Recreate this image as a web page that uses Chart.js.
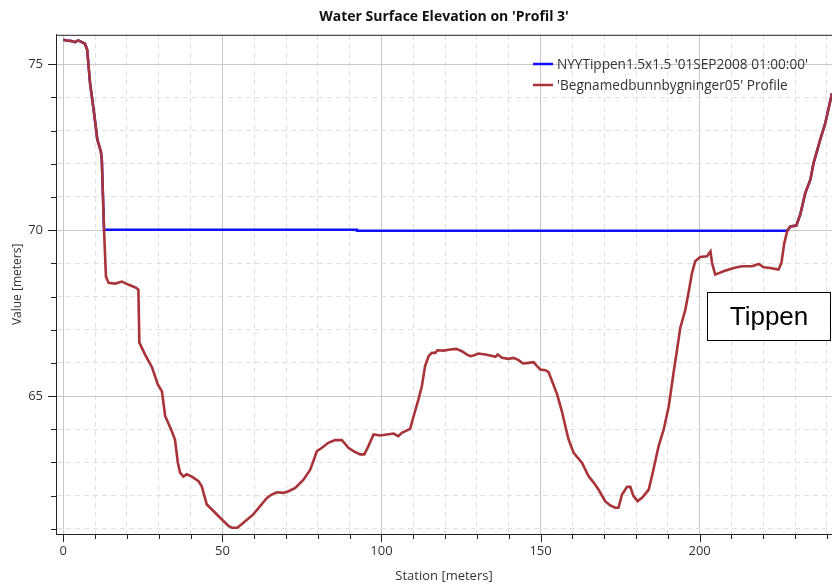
<!DOCTYPE html>
<html>
<head>
<meta charset="utf-8">
<script src="https://cdn.jsdelivr.net/npm/chart.js@4.4.1/dist/chart.umd.min.js"></script>
<style>
  html, body { margin: 0; padding: 0; background: #ffffff; }
  #wrap { width: 832px; height: 584px; position: relative; }
</style>
</head>
<body>
<div id="wrap"><canvas id="c" width="832" height="584"></canvas></div>
<script>
// ---- Data ----
const chartTitle = "Water Surface Elevation on 'Profil 3'";
const seriesNames = ["NYYTippen1.5x1.5 '01SEP2008 01:00:00'", "'Begnamedbunnbygninger05' Profile"];
const annotationText = "Tippen";

// Ground profile (Station [m], Value [m])
const stations = [0.0, 1.0, 2.6, 3.7, 4.7, 5.8, 6.8, 7.5, 8.4, 9.65, 10.7, 11.8, 12.1, 12.8, 13.4, 14.2, 16.3, 18.4, 20.4, 22.9, 23.6, 23.9, 25.7, 27.9, 29.7, 31.0, 32.0, 32.5, 34.1, 35.1, 36.0, 36.7, 37.7, 38.8, 40.4, 42.5, 43.5, 45.1, 46.7, 49.3, 51.9, 53.0, 54.7, 56.6, 59.7, 64.0, 65.5, 67.1, 69.2, 70.8, 72.9, 75.5, 77.6, 78.6, 79.7, 81.3, 83.3, 85.4, 87.5, 88.3, 89.6, 91.2, 93.3, 94.6, 95.9, 97.5, 99.6, 101.7, 103.8, 105.3, 106.4, 109.0, 110.1, 111.6, 112.7, 113.7, 114.8, 115.8, 116.9, 117.6, 119.5, 121.6, 123.5, 125.3, 126.9, 127.9, 128.9, 130.5, 132.6, 134.2, 135.8, 136.5, 137.9, 139.9, 141.5, 143.1, 144.5, 146.2, 147.8, 148.9, 149.9, 151.5, 152.5, 153.6, 155.2, 156.7, 157.8, 158.8, 160.4, 163.0, 165.1, 166.7, 168.2, 170.3, 171.9, 173.5, 174.5, 175.6, 177.2, 178.2, 179.2, 180.5, 181.9, 184.0, 185.5, 187.1, 188.7, 190.3, 191.8, 192.9, 193.9, 195.5, 196.5, 197.6, 198.6, 200.2, 202.3, 203.4, 203.9, 204.9, 207.5, 210.7, 213.3, 216.5, 218.6, 220.1, 222.2, 224.8, 225.7, 226.6, 227.6, 228.5, 230.4, 231.7, 233.2, 234.8, 235.8, 237.9, 239.5, 241.6, 243.0];
const elevations = [75.74, 75.72, 75.70, 75.67, 75.72, 75.67, 75.62, 75.44, 74.43, 73.54, 72.73, 72.37, 72.12, 70.00, 68.60, 68.41, 68.39, 68.45, 68.36, 68.26, 68.20, 66.61, 66.25, 65.86, 65.35, 65.14, 64.40, 64.29, 63.94, 63.69, 62.99, 62.69, 62.57, 62.64, 62.57, 62.43, 62.28, 61.73, 61.58, 61.33, 61.08, 61.03, 61.03, 61.18, 61.43, 61.93, 62.03, 62.10, 62.08, 62.13, 62.23, 62.48, 62.78, 63.04, 63.34, 63.44, 63.59, 63.67, 63.67, 63.59, 63.44, 63.34, 63.24, 63.24, 63.49, 63.84, 63.81, 63.84, 63.87, 63.79, 63.89, 64.01, 64.39, 64.89, 65.30, 65.90, 66.20, 66.30, 66.30, 66.38, 66.37, 66.40, 66.42, 66.35, 66.25, 66.20, 66.22, 66.28, 66.25, 66.22, 66.18, 66.25, 66.15, 66.12, 66.15, 66.08, 65.98, 66.00, 66.02, 65.90, 65.80, 65.78, 65.72, 65.45, 65.05, 64.54, 64.09, 63.69, 63.29, 62.99, 62.58, 62.39, 62.18, 61.83, 61.70, 61.63, 61.63, 62.03, 62.26, 62.26, 61.98, 61.83, 61.93, 62.18, 62.79, 63.49, 63.99, 64.69, 65.70, 66.40, 67.05, 67.60, 68.11, 68.71, 69.06, 69.19, 69.21, 69.36, 69.01, 68.66, 68.76, 68.86, 68.91, 68.91, 68.98, 68.88, 68.86, 68.81, 69.01, 69.61, 70.00, 70.11, 70.14, 70.50, 71.12, 71.52, 72.02, 72.73, 73.23, 74.13, 74.60];

// Water surface (flat part)
const wsStations = [12.8, 92.3, 92.3, 227.6];
const wsValues = [70.01, 70.01, 69.985, 69.985];

// Axis tick labels
const xTickLabels = [0, 50, 100, 150, 200];
const yTickLabels = [65, 70, 75];

// ---- Build datasets ----
const groundPts = stations.map((s, i) => ({ x: s, y: elevations[i] }));
const wsPts = [];
stations.forEach((s, i) => { if (s < wsStations[0]) wsPts.push({ x: s, y: elevations[i] }); });
wsStations.forEach((s, i) => wsPts.push({ x: s, y: wsValues[i] }));
stations.forEach((s, i) => { if (s > wsStations[wsStations.length - 1]) wsPts.push({ x: s, y: elevations[i] }); });

const BLUE = '#1010ff';
const RED = '#a8343a';
const FONT = "'Open Sans', 'Noto Sans', sans-serif";

const isMajorX = v => Math.abs(v % 50) < 1e-6;
const isMajorY = v => Math.abs(v % 5) < 1e-6;

function zeroPad(s) { s.paddingLeft = 0; s.paddingRight = 0; s.paddingTop = 0; s.paddingBottom = 0; }

const extrasPlugin = {
  id: 'extras',
  afterDraw(chart) {
    const { ctx, chartArea: a, scales } = chart;
    ctx.save();
    // top frame
    ctx.strokeStyle = '#222';
    ctx.lineWidth = 1;
    ctx.beginPath();
    ctx.moveTo(a.left, a.top + 0.5);
    ctx.lineTo(a.right, a.top + 0.5);
    ctx.stroke();
    // tick marks
    const xs = scales.x, ys = scales.y;
    ctx.beginPath();
    xs.ticks.forEach(t => {
      const px = Math.round(xs.getPixelForValue(t.value)) + 0.5;
      const len = isMajorX(t.value) ? 8 : 5;
      ctx.moveTo(px, a.bottom);
      ctx.lineTo(px, a.bottom + len);
    });
    ys.ticks.forEach(t => {
      const py = Math.round(ys.getPixelForValue(t.value)) + 0.5;
      const len = isMajorY(t.value) ? 8 : 5;
      ctx.moveTo(a.left, py);
      ctx.lineTo(a.left - len, py);
    });
    ctx.stroke();

    // legend (inside plot, top right)
    const lx = 533, ly0 = 64, dy = 21;
    const colors = [BLUE, RED];
    ctx.font = "13.6px " + FONT;
    ctx.textBaseline = 'middle';
    ctx.textAlign = 'left';
    seriesNames.forEach((n, i) => {
      const y = ly0 + i * dy;
      ctx.strokeStyle = colors[i];
      ctx.lineWidth = 2.5;
      ctx.beginPath();
      ctx.moveTo(lx, y);
      ctx.lineTo(lx + 20, y);
      ctx.stroke();
      ctx.fillStyle = '#333';
      ctx.fillText(n, lx + 24, y + 1);
    });

    // annotation box
    const bx = 707.5, by = 292.5, bw = 123, bh = 48;
    ctx.fillStyle = '#fff';
    ctx.fillRect(bx, by, bw, bh);
    ctx.strokeStyle = '#000';
    ctx.lineWidth = 1;
    ctx.strokeRect(bx, by, bw, bh);
    ctx.fillStyle = '#000';
    ctx.font = "26px 'Liberation Sans', Arial, sans-serif";
    ctx.textAlign = 'center';
    ctx.textBaseline = 'middle';
    ctx.fillText(annotationText, bx + bw / 2, by + bh / 2 + 1);
    ctx.restore();
  }
};

new Chart(document.getElementById('c'), {
  type: 'line',
  data: {
    datasets: [
      { label: seriesNames[0], data: wsPts, borderColor: BLUE, borderWidth: 2.5, pointRadius: 0, tension: 0, order: 1 },
      { label: seriesNames[1], data: groundPts, borderColor: RED, borderWidth: 2.6, pointRadius: 0, tension: 0, order: 0 }
    ]
  },
  options: {
    responsive: false,
    animation: false,
    layout: { padding: 0 },
    plugins: {
      legend: { display: false },
      tooltip: { enabled: false },
      title: {
        display: true,
        text: chartTitle,
        fullSize: false,
        color: '#111',
        font: { family: FONT, size: 14, weight: 'bold' },
        padding: { top: 9, bottom: 9 }
      }
    },
    scales: {
      x: {
        type: 'linear',
        min: -2.3,
        max: 241.6,
        afterFit(s) { s.height = 50; zeroPad(s); },
        ticks: {
          stepSize: 10,
          autoSkip: false,
          includeBounds: false,
          maxRotation: 0,
          padding: 9,
          color: '#333',
          font: { family: FONT, size: 13 },
          callback: v => xTickLabels.includes(Math.round(v)) && isMajorX(v) ? String(Math.round(v)) : ''
        },
        grid: {
          drawTicks: false,
          color: c => (c.tick && isMajorX(c.tick.value)) ? '#c8c8c8' : '#e0e0e0',
          lineWidth: 1
        },
        border: {
          display: true,
          color: '#222',
          width: 1,
          dash: c => (c.tick && !isMajorX(c.tick.value)) ? [5, 4] : []
        },
        title: {
          display: true,
          text: 'Station [meters]',
          color: '#333',
          font: { family: FONT, size: 13 },
          padding: { top: 0, bottom: 0 }
        }
      },
      y: {
        type: 'linear',
        min: 60.84,
        max: 75.89,
        afterFit(s) { s.width = 56; zeroPad(s); },
        ticks: {
          stepSize: 1,
          autoSkip: false,
          includeBounds: false,
          padding: 13,
          color: '#333',
          font: { family: FONT, size: 13 },
          callback: v => yTickLabels.includes(Math.round(v)) && isMajorY(v) ? String(Math.round(v)) : ''
        },
        grid: {
          drawTicks: false,
          color: c => (c.tick && isMajorY(c.tick.value)) ? '#c8c8c8' : '#e0e0e0',
          lineWidth: 1
        },
        border: {
          display: true,
          color: '#222',
          width: 1,
          dash: c => (c.tick && !isMajorY(c.tick.value)) ? [5, 4] : []
        },
        title: {
          display: true,
          text: 'Value [meters]',
          color: '#333',
          font: { family: FONT, size: 12 },
          padding: { top: 10, bottom: 0 }
        }
      }
    }
  },
  plugins: [extrasPlugin]
});
</script>
</body>
</html>
